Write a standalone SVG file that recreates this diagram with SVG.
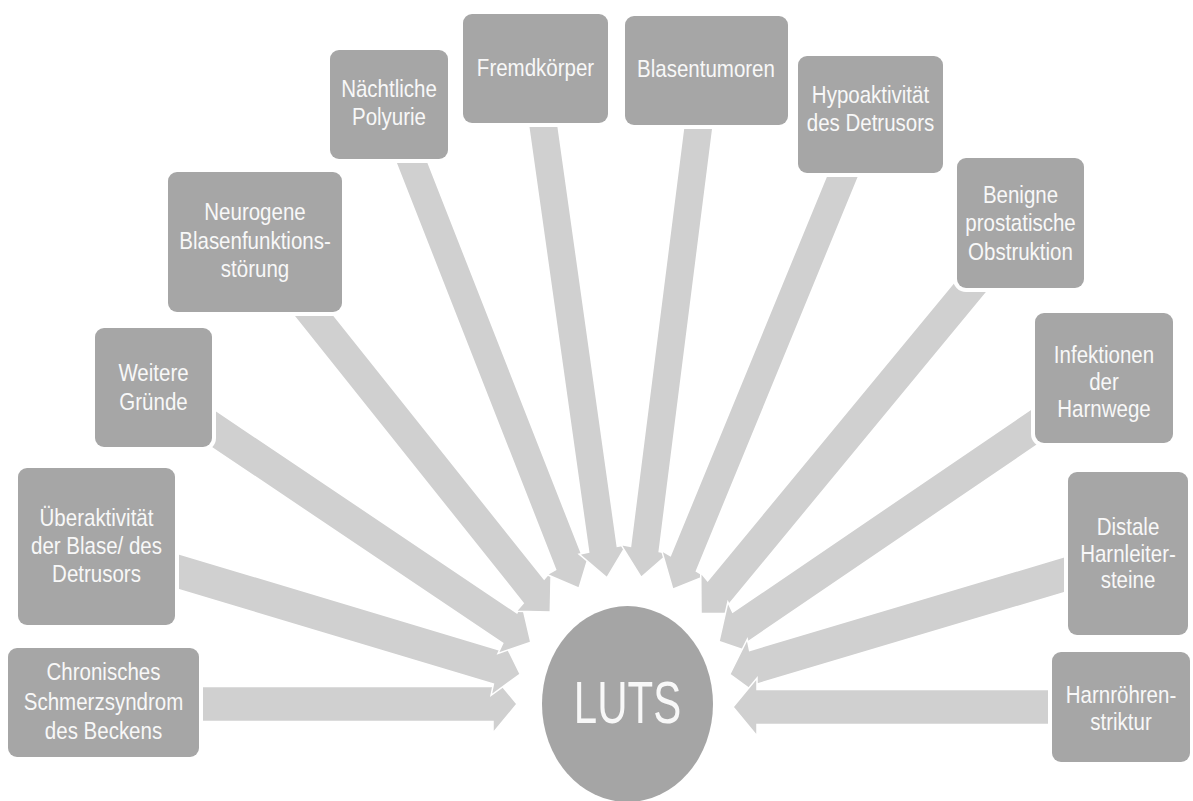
<svg xmlns="http://www.w3.org/2000/svg" width="1193" height="801" viewBox="0 0 1193 801">
<defs>
<style>
.arr{fill:#D0D0D0;stroke:#FFFFFF;stroke-width:1.5;vector-effect:non-scaling-stroke;stroke-linejoin:miter}
.box{fill:#A6A6A6;stroke:#FFFFFF;stroke-width:8;paint-order:stroke}
.lbl{font-family:"Liberation Sans",Arial,sans-serif;font-size:20.5px;fill:#F8F8F8;text-anchor:middle}
.big{font-family:"Liberation Sans",Arial,sans-serif;font-size:42px;fill:#F8F8F8;text-anchor:middle}
</style>
</defs>
<rect width="1193" height="801" fill="#FFFFFF"/>
<g id="connectors" transform="translate(625,705.5) scale(1,1.2)">
<polygon class="arr" transform="translate(0,-1.25) rotate(0)" points="-435,-14.5 -132,-14.5 -132,-24.2 -108,0 -132,24.2 -132,14.5 -435,14.5"/>
<polygon class="arr" transform="rotate(14.03)" points="-475,-14.5 -132,-14.5 -132,-24.2 -108,0 -132,24.2 -132,14.5 -475,14.5"/>
<polygon class="arr" transform="rotate(29.26)" points="-490,-14.5 -132,-14.5 -132,-24.2 -108,0 -132,24.2 -132,14.5 -490,14.5"/>
<polygon class="arr" transform="rotate(46.24)" points="-485,-14.5 -132,-14.5 -132,-24.2 -108,0 -132,24.2 -132,14.5 -485,14.5"/>
<polygon class="arr" transform="rotate(64.79)" points="-520,-14.5 -132,-14.5 -132,-24.2 -108,0 -132,24.2 -132,14.5 -520,14.5"/>
<polygon class="arr" transform="rotate(80.40)" points="-511,-14.5 -132,-14.5 -132,-24.2 -108,0 -132,24.2 -132,14.5 -511,14.5"/>
<polygon class="arr" transform="rotate(98.65)" points="-510,-14.5 -132,-14.5 -132,-24.2 -108,0 -132,24.2 -132,14.5 -510,14.5"/>
<polygon class="arr" transform="rotate(116.25)" points="-511,-14.5 -132,-14.5 -132,-24.2 -108,0 -132,24.2 -132,14.5 -511,14.5"/>
<polygon class="arr" transform="rotate(134.74)" points="-510,-14.5 -132,-14.5 -132,-24.2 -108,0 -132,24.2 -132,14.5 -510,14.5"/>
<polygon class="arr" transform="rotate(150.44)" points="-489,-14.5 -132,-14.5 -132,-24.2 -108,0 -132,24.2 -132,14.5 -489,14.5"/>
<polygon class="arr" transform="rotate(166.06)" points="-474,-14.5 -132,-14.5 -132,-24.2 -108,0 -132,24.2 -132,14.5 -474,14.5"/>
<polygon class="arr" transform="translate(0,1.25) rotate(180)" points="-445,-14.5 -132,-14.5 -132,-24.2 -108,0 -132,24.2 -132,14.5 -445,14.5"/>
</g>
<g id="n-chronisches">
<rect class="box" x="8" y="648" width="191" height="109" rx="9"/>
<text class="lbl" transform="translate(103.5,680) scale(1,1.15)"><tspan x="0" y="0">Chronisches</tspan><tspan x="0" y="26.1">Schmerzsyndrom</tspan><tspan x="0" y="51.3">des Beckens</tspan></text>
</g>
<g id="n-ueberaktivitaet">
<rect class="box" x="18" y="468" width="157" height="157" rx="9"/>
<text class="lbl" transform="translate(96.5,526) scale(1,1.15)"><tspan x="0" y="0">Überaktivität</tspan><tspan x="0" y="24.35">der Blase/ des</tspan><tspan x="0" y="48.7">Detrusors</tspan></text>
</g>
<g id="n-weitere">
<rect class="box" x="95" y="328" width="117" height="119" rx="9"/>
<text class="lbl" transform="translate(153.5,381) scale(1,1.15)"><tspan x="0" y="0">Weitere</tspan><tspan x="0" y="25.2">Gründe</tspan></text>
</g>
<g id="n-neurogene">
<rect class="box" x="168" y="172" width="174" height="140" rx="9"/>
<text class="lbl" transform="translate(255,220) scale(1,1.15)"><tspan x="0" y="0">Neurogene</tspan><tspan x="0" y="25.2">Blasenfunktions-</tspan><tspan x="0" y="49.6">störung</tspan></text>
</g>
<g id="n-naechtliche">
<rect class="box" x="330" y="50" width="118" height="109" rx="9"/>
<text class="lbl" transform="translate(389,97) scale(1,1.15)"><tspan x="0" y="0">Nächtliche</tspan><tspan x="0" y="24.35">Polyurie</tspan></text>
</g>
<g id="n-fremdkoerper">
<rect class="box" x="463" y="14" width="145" height="109" rx="9"/>
<text class="lbl" transform="translate(535.5,76) scale(1,1.15)"><tspan x="0" y="0">Fremdkörper</tspan></text>
</g>
<g id="n-blasentumoren">
<rect class="box" x="625" y="16" width="163" height="109" rx="9"/>
<text class="lbl" transform="translate(706,77) scale(1,1.15)"><tspan x="0" y="0">Blasentumoren</tspan></text>
</g>
<g id="n-hypoaktivitaet">
<rect class="box" x="798" y="56" width="145" height="117" rx="9"/>
<text class="lbl" transform="translate(870.5,103) scale(1,1.15)"><tspan x="0" y="0">Hypoaktivität</tspan><tspan x="0" y="24.35">des Detrusors</tspan></text>
</g>
<g id="n-benigne">
<rect class="box" x="957" y="158" width="127" height="130" rx="9"/>
<text class="lbl" transform="translate(1020.5,203) scale(1,1.15)"><tspan x="0" y="0">Benigne</tspan><tspan x="0" y="24.35">prostatische</tspan><tspan x="0" y="49.6">Obstruktion</tspan></text>
</g>
<g id="n-infektionen">
<rect class="box" x="1035" y="313" width="138" height="130" rx="9"/>
<text class="lbl" transform="translate(1104,363) scale(1,1.15)"><tspan x="0" y="0">Infektionen</tspan><tspan x="0" y="23.5">der</tspan><tspan x="0" y="47">Harnwege</tspan></text>
</g>
<g id="n-distale">
<rect class="box" x="1068" y="472" width="120" height="163" rx="9"/>
<text class="lbl" transform="translate(1128,535) scale(1,1.15)"><tspan x="0" y="0">Distale</tspan><tspan x="0" y="23.5">Harnleiter-</tspan><tspan x="0" y="46.1">steine</tspan></text>
</g>
<g id="n-harnroehre">
<rect class="box" x="1052" y="652" width="138" height="110" rx="9"/>
<text class="lbl" transform="translate(1121,703) scale(1,1.15)"><tspan x="0" y="0">Harnröhren-</tspan><tspan x="0" y="23.5">striktur</tspan></text>
</g>
<g id="n-luts">
<ellipse cx="627.5" cy="704" rx="85.5" ry="98" fill="#A5A5A5"/>
<text class="big" transform="translate(627.5,723) scale(1,1.4)" x="0" y="0">LUTS</text>
</g>
</svg>
